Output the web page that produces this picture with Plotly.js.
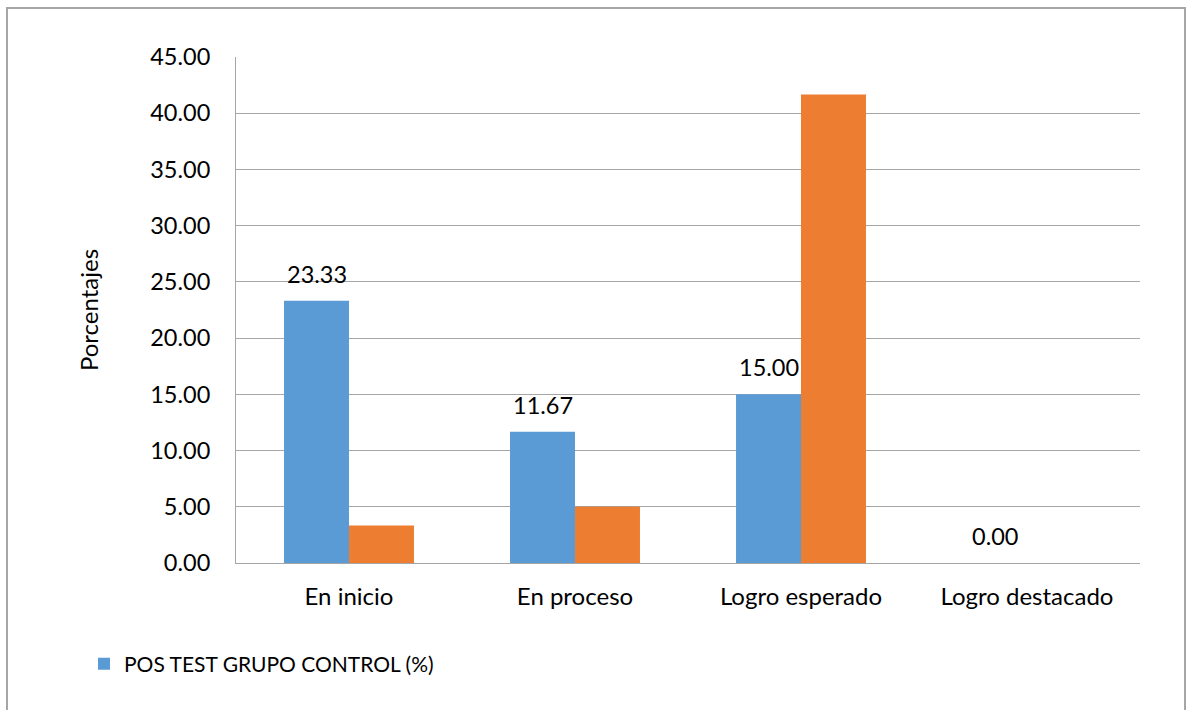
<!DOCTYPE html>
<html>
<head>
<meta charset="utf-8">
<script src="https://cdn.plot.ly/plotly-3.0.1.min.js"></script>
<style>
html,body{margin:0;padding:0;background:#fff;}
#chart{width:1188px;height:710px;}
</style>
</head>
<body>
<div id="chart"></div>
<script>
const categories = ["En inicio", "En proceso", "Logro esperado", "Logro destacado"];
const controlName = "POS TEST GRUPO CONTROL (%)";
const controlValues = [23.33, 11.67, 15.00, 0.00];
const secondName = "POS TEST GRUPO EXPERIMENTAL (%)";
const secondValues = [3.33, 5.00, 41.67, 0.00];
const yTickValues = [0, 5, 10, 15, 20, 25, 30, 35, 40, 45];
const yTickLabels = ["0.00", "5.00", "10.00", "15.00", "20.00", "25.00", "30.00", "35.00", "40.00", "45.00"];
const yAxisTitle = "Porcentajes";

const FONT = "Lato, 'Open Sans', sans-serif";

const traces = [
  {
    type: "bar",
    name: controlName,
    x: categories,
    y: controlValues,
    marker: {color: "#5b9bd5"},
    hoverinfo: "x+y"
  },
  {
    type: "bar",
    name: secondName,
    x: categories,
    y: secondValues,
    marker: {color: "#ed7d31"},
    showlegend: false,
    hoverinfo: "x+y"
  }
];

const W = 1188, H = 710;
const L = 236, R = 48, T = 57, B = 147;
const pw = W - L - R, ph = H - T - B;
function px(x){ return (x - L) / pw; }
function py(y){ return (H - B - y) / ph; }

const BARGAP = 0.425;
// offset of the first bar in a group of two, in pixels, derived from layout
const groupOffset = -(pw / categories.length) * (1 - BARGAP) / 4;

const labelAnnotations = categories.map((c, i) => ({
  xref: "x", yref: "y",
  x: c, y: controlValues[i],
  text: controlValues[i].toFixed(2),
  showarrow: false,
  xanchor: "center", yanchor: "bottom",
  xshift: groupOffset, yshift: 11,
  font: {family: FONT, size: 23.5, color: "#000"}
}));

const layout = {
  width: W, height: H,
  margin: {l: L, r: R, t: T, b: B, pad: 0},
  paper_bgcolor: "#fff",
  plot_bgcolor: "#fff",
  font: {family: FONT, size: 23, color: "#000"},
  barmode: "group",
  bargap: BARGAP,
  bargroupgap: 0,
  showlegend: true,
  legend: {
    xref: "container", yref: "container",
    x: 84 / W, y: 1 - 664 / H,
    xanchor: "left", yanchor: "middle",
    orientation: "h",
    font: {family: FONT, size: 21, color: "#000"},
    itemwidth: 30
  },
  xaxis: {
    type: "category",
    showgrid: false,
    showline: true, linecolor: "#a6a6a6", linewidth: 1,
    ticks: "", ticklen: 0,
    ticklabelstandoff: 12,
    tickfont: {family: FONT, size: 24, color: "#000"},
    fixedrange: true
  },
  yaxis: {
    range: [0, 45],
    tickvals: yTickValues,
    ticktext: yTickLabels,
    showgrid: true, gridcolor: "#a6a6a6", gridwidth: 1,
    showline: true, linecolor: "#a6a6a6", linewidth: 1,
    zeroline: false,
    ticks: "", ticklen: 0,
    ticklabelstandoff: 20,
    tickfont: {family: FONT, size: 23.5, color: "#000"},
    title: {text: yAxisTitle, font: {family: FONT, size: 24, color: "#000"}, standoff: 44},
    fixedrange: true
  },
  annotations: labelAnnotations,
  shapes: [
    {type: "rect", xref: "paper", yref: "paper",
     x0: px(7), x1: px(1185), y0: py(760), y1: py(8),
     line: {color: "#a6a6a6", width: 2}, fillcolor: "rgba(0,0,0,0)", layer: "above"}
  ]
};

Plotly.newPlot("chart", traces, layout, {displayModeBar: false, staticPlot: true});
</script>
</body>
</html>
